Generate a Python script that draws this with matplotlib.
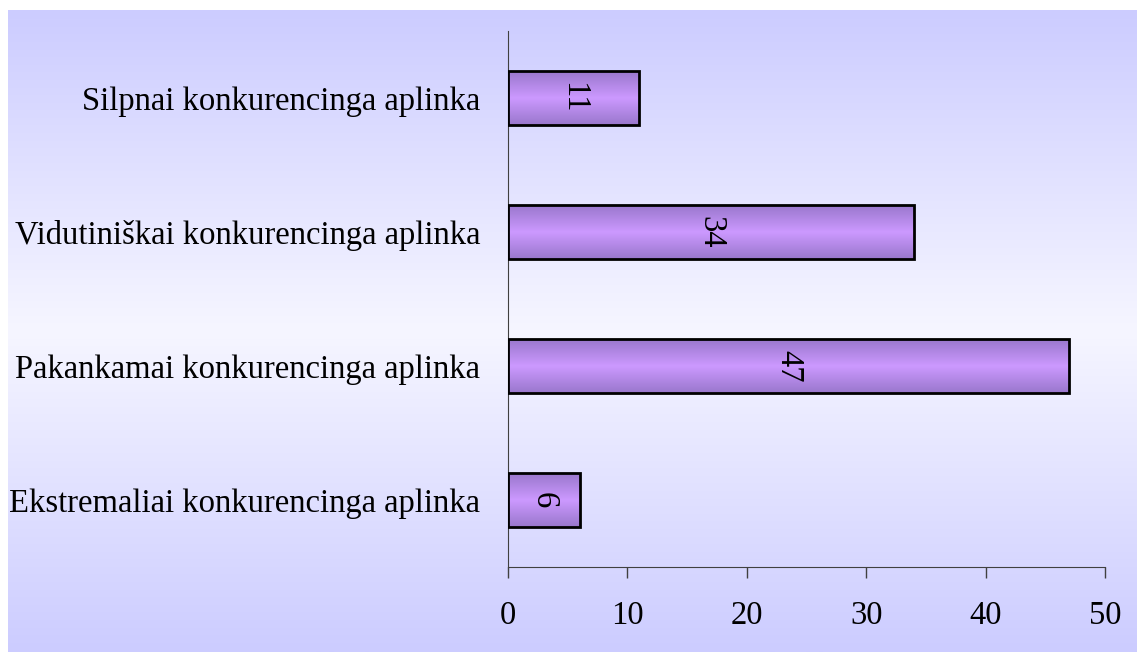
import numpy as np
import matplotlib.pyplot as plt
from matplotlib.colors import LinearSegmentedColormap

categories = ['Ekstremaliai konkurencinga aplinka',
              'Pakankamai konkurencinga aplinka',
              'Vidutiniškai konkurencinga aplinka',
              'Silpnai konkurencinga aplinka']
values = [6, 47, 34, 11]
xticks = [0, 10, 20, 30, 40, 50]

plt.rcParams['font.family'] = ['Liberation Serif', 'DejaVu Serif']

W, H = 1137, 652
fig = plt.figure(figsize=(W / 100, H / 100), dpi=100)

# background panel with vertical gradient
bg = fig.add_axes([8 / W, 0, 1 - 8 / W, 1 - 10 / H])
bg_cmap = LinearSegmentedColormap.from_list('bg', ['#ccccff', '#f6f6ff', '#ccccff'])
grad = np.linspace(0, 1, 256).reshape(-1, 1)
bg.imshow(grad, aspect='auto', cmap=bg_cmap, extent=[0, 1, 0, 1])
bg.set_axis_off()

ax = fig.add_axes([508 / W, (H - 567) / H, (1105 - 508) / W, (567 - 31) / H])
ax.patch.set_alpha(0)

bar_cmap = LinearSegmentedColormap.from_list('bar', ['#9977cc', '#cc99ff', '#9977cc'])
bars = ax.barh(range(len(values)), values, height=0.4, color='none',
               edgecolor='black', linewidth=2, zorder=3)
for b, v in zip(bars, values):
    x0, y0 = b.get_x(), b.get_y()
    w, h = b.get_width(), b.get_height()
    im = ax.imshow(grad, aspect='auto', cmap=bar_cmap,
                   extent=[x0, x0 + w, y0, y0 + h], zorder=2)
    im.set_clip_path(b)
    ax.text(x0 + w / 2, y0 + h / 2, str(v), rotation=270, ha='center',
            va='center', fontsize=23.5, zorder=4)

ax.set_xlim(0, 50)
ax.set_ylim(-0.5, 3.5)
ax.set_xticks(xticks)
ax.set_yticks(range(len(categories)))
ax.set_yticklabels(categories)
ax.tick_params(axis='y', length=0, pad=20, labelsize=23.5)
ax.tick_params(axis='x', length=8, width=1, color='#404040', pad=16, labelsize=23.5)
for s in ['top', 'right']:
    ax.spines[s].set_visible(False)
for s in ['left', 'bottom']:
    ax.spines[s].set_color('#404040')

fig.savefig('out.png', dpi=100, facecolor='white')
